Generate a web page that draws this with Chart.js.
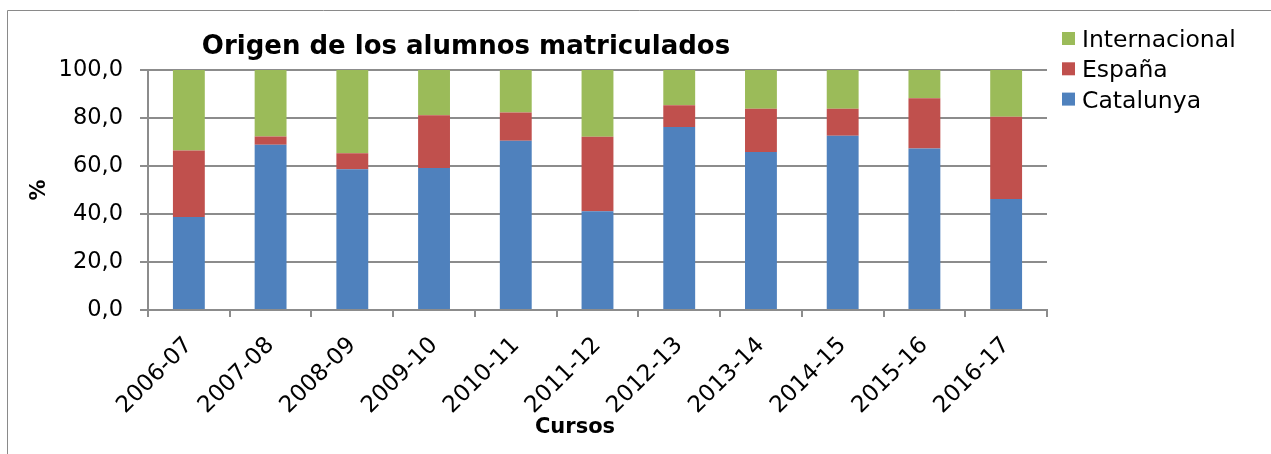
<!DOCTYPE html>
<html>
<head>
<meta charset="utf-8">
<script src="https://cdn.jsdelivr.net/npm/chart.js@4/dist/chart.umd.min.js"></script>
<style>
  html, body { margin: 0; padding: 0; background: #ffffff; }
  #wrap { width: 1271px; height: 454px; position: relative; }
</style>
</head>
<body>
<div id="wrap"><canvas id="c" width="1271" height="454"></canvas></div>
<script>
const categories = ['2006-07','2007-08','2008-09','2009-10','2010-11','2011-12','2012-13','2013-14','2014-15','2015-16','2016-17'];
const catalunya     = [38.8, 68.9, 58.6, 59.2, 70.5, 41.1, 76.3, 65.8, 72.6, 67.3, 46.3];
const espana        = [27.7,  3.4,  6.7, 21.9, 11.8, 31.1,  9.0, 18.1, 11.3, 20.9, 34.2];
const internacional = [33.5, 27.7, 34.7, 18.9, 17.7, 27.8, 14.7, 16.1, 16.1, 11.8, 19.5];
const yTicks = [0, 20, 40, 60, 80, 100];

const chartTitle = 'Origen de los alumnos matriculados';
const xTitle = 'Cursos';
const yTitle = '%';

const FONT = '"DejaVu Sans", "Liberation Sans", sans-serif';
const GRID = '#8c8c8c';

const decorPlugin = {
  id: 'decor',
  beforeDraw(chart) {
    const ctx = chart.ctx;
    ctx.save();
    ctx.strokeStyle = '#8a8a8a';
    ctx.lineWidth = 1;
    ctx.beginPath();
    ctx.moveTo(7.5, 454);
    ctx.lineTo(7.5, 10.5);
    ctx.lineTo(1271, 10.5);
    ctx.stroke();
    ctx.restore();
  },
  afterDraw(chart) {
    const ctx = chart.ctx;
    ctx.save();
    ctx.fillStyle = '#000';
    // title
    ctx.font = 'bold 26px ' + FONT;
    ctx.textAlign = 'center';
    ctx.textBaseline = 'alphabetic';
    ctx.fillText(chartTitle, 466, 54);
    // x title
    ctx.font = 'bold 21px ' + FONT;
    ctx.fillText(xTitle, 575, 433);
    // y title
    ctx.save();
    ctx.translate(45, 190);
    ctx.rotate(-Math.PI / 2);
    ctx.font = 'bold 21px ' + FONT;
    ctx.textAlign = 'center';
    ctx.fillText(yTitle, 0, 0);
    ctx.restore();
    // legend (reverse order)
    const ds = chart.data.datasets.slice().reverse();
    ctx.font = '23.5px ' + FONT;
    ctx.textAlign = 'left';
    ctx.textBaseline = 'alphabetic';
    ds.forEach((d, i) => {
      const baseY = 47 + i * 30.3;
      ctx.fillStyle = d.backgroundColor;
      ctx.fillRect(1062, baseY - 15, 13, 13);
      ctx.fillStyle = '#000';
      ctx.fillText(d.label, 1082, baseY);
    });
    ctx.restore();
  }
};

new Chart(document.getElementById('c'), {
  type: 'bar',
  data: {
    labels: categories,
    datasets: [
      { label: 'Catalunya', data: catalunya, backgroundColor: '#4F81BD', borderWidth: 0 },
      { label: 'España', data: espana, backgroundColor: '#C0504D', borderWidth: 0 },
      { label: 'Internacional', data: internacional, backgroundColor: '#9BBB59', borderWidth: 0 }
    ]
  },
  options: {
    responsive: false,
    animation: false,
    layout: { padding: { top: 70, right: 224, bottom: 0, left: 0 } },
    datasets: { bar: { barPercentage: 0.39, categoryPercentage: 1.0 } },
    plugins: {
      legend: { display: false },
      title: { display: false },
      tooltip: { enabled: false }
    },
    scales: {
      x: {
        stacked: true,
        offset: true,
        grid: { display: true, drawOnChartArea: false, offset: true, color: GRID, lineWidth: 2, tickLength: 7 },
        border: { display: true, color: GRID, width: 2 },
        ticks: {
          color: '#000',
          font: { family: FONT, size: 23 },
          minRotation: 45, maxRotation: 45,
          autoSkip: false,
          padding: 15
        },
        afterFit(scale) { scale.height = 144; }
      },
      y: {
        stacked: true,
        min: 0, max: 100,
        afterBuildTicks(scale) { scale.ticks = yTicks.map(v => ({ value: v })); },
        grid: { color: GRID, lineWidth: 2, tickLength: 8 },
        border: { display: true, color: GRID, width: 2 },
        ticks: {
          color: '#000',
          font: { family: FONT, size: 22.5 },
          padding: 17,
          callback: v => v.toFixed(1).replace('.', ',')
        },
        afterFit(scale) { scale.width = 148; }
      }
    }
  },
  plugins: [decorPlugin]
});
</script>
</body>
</html>
